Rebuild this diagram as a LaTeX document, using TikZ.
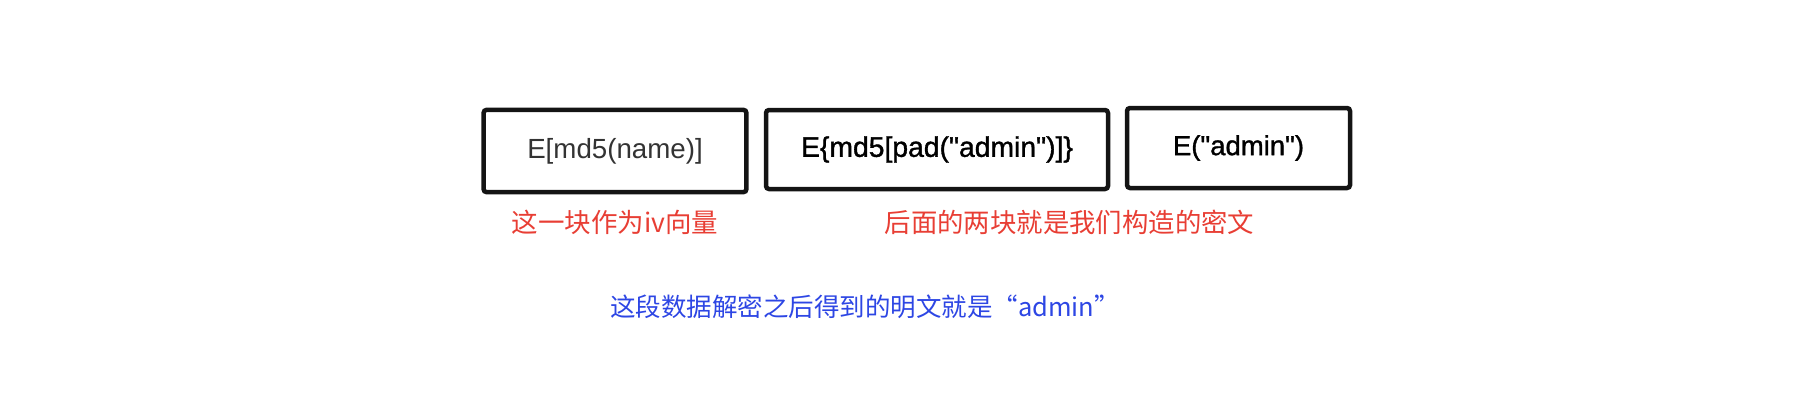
\documentclass[tikz,border=0pt]{standalone}
\usepackage{fontspec}
\setmainfont{Liberation Sans}
\newfontfamily\cjk{Noto Sans CJK SC}
\newfontfamily\medfont{Liberation Sans}[BoldFont=Liberation Sans,BoldFeatures={FakeBold=1.2}]
\definecolor{noteRed}{RGB}{232,62,52}
\definecolor{noteBlue}{RGB}{45,70,228}
\definecolor{boxLine}{RGB}{20,20,20}
\begin{document}
\begin{tikzpicture}[x=1pt,y=-1pt,
  blockbox/.style={draw=boxLine, line width=4.5pt, rounded corners=3pt, inner sep=0pt, align=center},
  lighttext/.style={font=\fontsize{27.7}{32}\selectfont, text=black!80},
  medtext/.style={font=\medfont\bfseries\fontsize{27.5}{32}\selectfont, text=black},
  rednote/.style={text=noteRed, inner sep=0pt},
  bluenote/.style={text=noteBlue, inner sep=0pt}]
\useasboundingbox (0,0) rectangle (1798,400);
\node[blockbox, lighttext, minimum width=262.8pt, minimum height=82.3pt] (iv) at (615,151) {E[md5(name)]};
\node[blockbox, medtext, font=\medfont\bfseries\fontsize{28.3}{32}\selectfont, minimum width=342pt, minimum height=79pt] (c1) at (937,149.5) {E\{md5[pad("admin")]\}};
\node[blockbox, medtext, minimum width=223pt, minimum height=80pt] (c2) at (1238.5,148) {E("admin")};
\node[rednote, font=\cjk\fontsize{26.5}{30}\selectfont] (n1) at (615,222) {这一块作为iv向量};
\node[rednote, font=\cjk\fontsize{26.4}{30}\selectfont] (n2) at (1069.5,222) {后面的两块就是我们构造的密文};
\node[bluenote, font=\cjk\fontsize{25.5}{30}\selectfont] (n3) at (865,306.5) {这段数据解密之后得到的明文就是“admin”};
\end{tikzpicture}
\end{document}
